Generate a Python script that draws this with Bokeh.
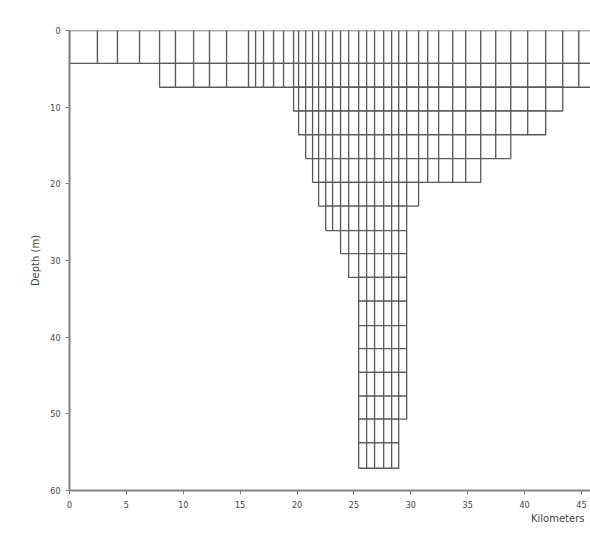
from bokeh.plotting import figure
from bokeh.models import Range1d, FixedTicker, Title
from bokeh.embed import file_html
from bokeh.resources import INLINE

# Column edges of the model grid (km)
col_edges = [0.0, 2.46, 4.22, 6.16, 7.92, 9.32, 10.91, 12.31, 13.81, 15.74, 16.36,
             17.06, 17.94, 18.82, 19.70, 20.14, 20.76, 21.37, 21.90, 22.52, 23.13,
             23.83, 24.54, 25.42, 26.12, 26.82, 27.62, 28.32, 28.94, 29.64, 30.69,
             31.49, 32.45, 33.69, 34.83, 36.15, 37.47, 38.79, 40.28, 41.86, 43.36,
             44.77, 46.26]
# Layer boundaries (depth, m)
layer_tops = [0.0, 4.3, 7.4, 10.5, 13.6, 16.7, 19.8, 22.9, 26.1, 29.1, 32.2,
              35.3, 38.5, 41.5, 44.6, 47.7, 50.7, 53.8]
layer_bottoms = [4.3, 7.4, 10.5, 13.6, 16.7, 19.8, 22.9, 26.1, 29.1, 32.2, 35.3,
                 38.5, 41.5, 44.6, 47.7, 50.7, 53.8, 57.1]
# Horizontal extent of each layer (km)
layer_left = [0.0, 7.92, 19.70, 20.14, 20.76, 21.37, 21.90, 22.52, 23.83, 24.54,
              25.42, 25.42, 25.42, 25.42, 25.42, 25.42, 25.42, 25.42]
layer_right = [46.26, 46.26, 43.36, 41.86, 38.79, 36.15, 30.69, 29.64, 29.64, 29.64,
               29.64, 29.64, 29.64, 29.64, 29.64, 29.64, 28.94, 28.94]

x_ticks = [0, 5, 10, 15, 20, 25, 30, 35, 40, 45]
y_ticks = [0, 10, 20, 30, 40, 50, 60]

L, R, T, B = [], [], [], []
for top, bot, lo, hi in zip(layer_tops, layer_bottoms, layer_left, layer_right):
    inside = [e for e in col_edges if lo - 1e-6 <= e <= hi + 1e-6]
    for a, b in zip(inside[:-1], inside[1:]):
        L.append(a); R.append(b); T.append(top); B.append(bot)

p = figure(width=590, height=533, output_backend="svg", toolbar_location=None,
           x_range=Range1d(0, 45.8), y_range=Range1d(60, 0),
           min_border_left=69, min_border_top=30, min_border_right=0, min_border_bottom=43)
p.outline_line_color = None
p.grid.visible = False
p.background_fill_color = "white"

p.quad(left=L, right=R, top=T, bottom=B, fill_color="white",
       line_color="#5a5a5a", line_width=1.3)

for ax in (p.xaxis[0], p.yaxis[0]):
    ax.axis_line_color = "#808080"
    ax.axis_line_width = 2
    ax.major_tick_line_color = "#808080"
    ax.major_tick_in = 0
    ax.major_tick_out = 4
    ax.minor_tick_line_color = None
    ax.major_label_text_font = "DejaVu Sans"
    ax.major_label_text_font_size = "8px"
    ax.major_label_text_color = "#444444"

p.xaxis.ticker = FixedTicker(ticks=x_ticks)
p.yaxis.ticker = FixedTicker(ticks=y_ticks)
p.xaxis.major_label_standoff = 6
p.yaxis.major_label_standoff = 5

p.yaxis.axis_label = "Depth (m)"
p.yaxis.axis_label_text_font = "DejaVu Sans"
p.yaxis.axis_label_text_font_size = "10px"
p.yaxis.axis_label_text_font_style = "normal"
p.yaxis.axis_label_text_color = "#444444"
p.yaxis.axis_label_standoff = 6

p.add_layout(Title(text="Kilometers", align="right", offset=6,
                   text_font="DejaVu Sans", text_font_size="10px",
                   text_font_style="normal", text_color="#444444",
                   standoff=0), "below")

open("out.html", "w").write(file_html(p, INLINE))
